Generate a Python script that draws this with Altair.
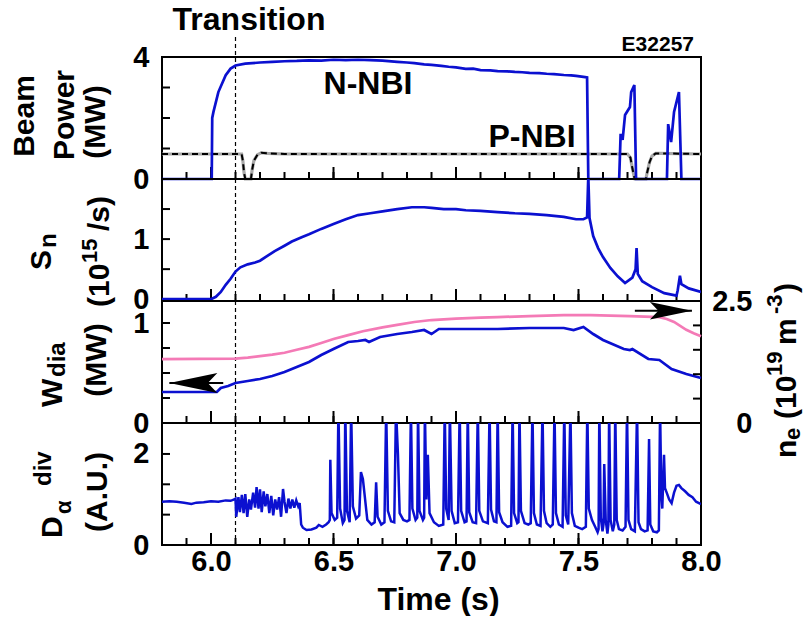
import altair as alt
import pandas as pd

FONT = "Liberation Sans"
BLUE = "#0b10d0"
PINK = "#f47ab6"
GRAY = "#a8a8a8"
W, H = 539, 122

# ---------------- data (time [s], value) ----------------
nnbi = [(5.80, 0), (6.003, 0), (6.005, 2.0), (6.01, 2.2), (6.03, 2.85), (6.06, 3.4),
        (6.08, 3.62), (6.10, 3.72), (6.14, 3.78), (6.20, 3.82), (6.25, 3.84), (6.30, 3.86),
        (6.35, 3.87), (6.40, 3.89), (6.45, 3.88), (6.50, 3.91), (6.55, 3.90), (6.60, 3.91),
        (6.65, 3.90), (6.70, 3.88), (6.76, 3.84), (6.80, 3.82), (6.83, 3.80), (6.87, 3.76),
        (6.90, 3.74), (6.94, 3.71), (6.97, 3.68), (7.00, 3.66), (7.04, 3.61), (7.07, 3.62),
        (7.10, 3.57), (7.14, 3.56), (7.17, 3.54), (7.21, 3.53), (7.24, 3.51), (7.27, 3.50),
        (7.30, 3.48), (7.34, 3.47), (7.37, 3.45), (7.40, 3.44), (7.44, 3.41), (7.47, 3.40),
        (7.49, 3.38), (7.52, 3.35), (7.535, 3.33), (7.54, 0), (7.666, 0), (7.672, 1.48),
        (7.68, 1.28), (7.69, 2.10), (7.71, 2.36), (7.715, 2.85), (7.728, 3.08), (7.735, 0),
        (7.861, 0), (7.866, 1.80), (7.878, 1.21), (7.89, 2.20), (7.91, 2.85), (7.92, 0), (8.0, 0)]

pnbi = [(5.80, 0.82), (6.125, 0.82), (6.13, 0.60), (6.135, 0.20), (6.14, 0.0), (6.163, 0.0),
        (6.168, 0.30), (6.175, 0.60), (6.19, 0.80), (6.205, 0.86), (6.23, 0.84), (6.30, 0.82),
        (7.70, 0.82), (7.712, 0.70), (7.72, 0.35), (7.728, 0.05), (7.73, 0.0), (7.775, 0.0),
        (7.78, 0.20), (7.79, 0.55), (7.80, 0.75), (7.815, 0.84), (7.83, 0.84), (8.0, 0.82)]

sn = [(5.80, 0.0), (6.00, 0.0), (6.02, 0.04), (6.04, 0.12), (6.06, 0.24), (6.08, 0.34),
      (6.10, 0.46), (6.12, 0.53), (6.15, 0.58), (6.18, 0.61), (6.20, 0.64), (6.23, 0.72),
      (6.26, 0.80), (6.30, 0.89), (6.33, 0.96), (6.37, 1.03), (6.40, 1.08), (6.45, 1.17),
      (6.50, 1.25), (6.55, 1.33), (6.60, 1.40), (6.65, 1.43), (6.70, 1.46), (6.76, 1.50),
      (6.82, 1.53), (6.87, 1.53), (6.90, 1.52), (6.95, 1.50), (7.00, 1.50), (7.04, 1.48),
      (7.10, 1.47), (7.17, 1.45), (7.24, 1.43), (7.30, 1.42), (7.37, 1.40), (7.44, 1.37),
      (7.49, 1.33), (7.52, 1.33), (7.535, 1.36), (7.54, 2.05), (7.545, 1.35), (7.56, 1.05),
      (7.58, 0.85), (7.60, 0.70), (7.63, 0.52), (7.66, 0.38), (7.69, 0.27), (7.72, 0.36),
      (7.733, 0.50), (7.737, 0.85), (7.742, 0.42), (7.76, 0.30), (7.80, 0.20), (7.85, 0.10),
      (7.90, 0.06), (7.905, 0.15), (7.914, 0.39), (7.92, 0.25), (7.95, 0.18), (8.0, 0.12)]

wdia = [(5.80, 0.31), (6.00, 0.31), (6.024, 0.31), (6.04, 0.35), (6.07, 0.37), (6.10, 0.40),
        (6.15, 0.42), (6.20, 0.44), (6.25, 0.47), (6.30, 0.51), (6.35, 0.56), (6.40, 0.61),
        (6.45, 0.68), (6.50, 0.74), (6.56, 0.81), (6.60, 0.82), (6.63, 0.83), (6.645, 0.81),
        (6.69, 0.86), (6.76, 0.89), (6.82, 0.91), (6.87, 0.93), (6.90, 0.89), (6.93, 0.94),
        (7.00, 0.94), (7.10, 0.94), (7.17, 0.94), (7.30, 0.95), (7.44, 0.95), (7.48, 0.93),
        (7.52, 0.96), (7.56, 0.89), (7.60, 0.83), (7.685, 0.74), (7.71, 0.73), (7.72, 0.74),
        (7.785, 0.64), (7.83, 0.63), (7.88, 0.54), (7.94, 0.49), (8.0, 0.45)]

ne = [(5.80, 1.31), (6.10, 1.32), (6.15, 1.34), (6.20, 1.37), (6.25, 1.40), (6.30, 1.44),
      (6.35, 1.50), (6.40, 1.56), (6.45, 1.64), (6.50, 1.72), (6.56, 1.80), (6.62, 1.88),
      (6.70, 1.96), (6.76, 2.01), (6.83, 2.07), (6.90, 2.11), (7.00, 2.14), (7.10, 2.16),
      (7.17, 2.17), (7.30, 2.19), (7.44, 2.21), (7.55, 2.21), (7.71, 2.19), (7.83, 2.17),
      (7.86, 2.13), (7.89, 2.07), (7.94, 1.91), (7.97, 1.84), (8.0, 1.78)]

dalpha = [(5.80, 0.95), (5.83, 0.96), (5.86, 0.95), (5.89, 0.93), (5.92, 0.90), (5.94, 0.93),
          (5.97, 0.94), (6.00, 0.96), (6.03, 0.95), (6.06, 0.98), (6.08, 0.97), (6.095, 1.00),
          (6.10, 1.02), (6.103, 0.62), (6.112, 1.05), (6.118, 0.72), (6.126, 1.10), (6.133, 0.70),
          (6.14, 1.12), (6.148, 0.62), (6.156, 1.00), (6.163, 0.78), (6.172, 1.15), (6.18, 0.82),
          (6.186, 1.27), (6.194, 0.80), (6.20, 1.22), (6.207, 0.72), (6.215, 1.18), (6.222, 0.85),
          (6.23, 1.12), (6.238, 0.70), (6.246, 1.08), (6.254, 0.65), (6.262, 1.00), (6.27, 0.78),
          (6.278, 1.05), (6.286, 0.62), (6.294, 1.23), (6.30, 0.95), (6.308, 0.70), (6.316, 1.02),
          (6.324, 0.80), (6.332, 1.00), (6.34, 0.82), (6.348, 0.98), (6.356, 0.85), (6.362, 0.92),
          (6.368, 0.45), (6.375, 0.38), (6.39, 0.33), (6.41, 0.34), (6.43, 0.38), (6.44, 0.44),
          (6.455, 0.40), (6.47, 0.45), (6.48, 0.50),
          (6.485, 0.55), (6.487, 1.87), (6.492, 0.70), (6.505, 0.55), (6.515, 0.60),
          (6.520, 3.0), (6.527, 0.80), (6.538, 0.48), (6.545, 0.55),
          (6.548, 3.0), (6.555, 0.75), (6.566, 0.50),
          (6.572, 3.0), (6.579, 0.85), (6.592, 0.58), (6.605, 0.65),
          (6.612, 1.60), (6.62, 1.45), (6.628, 1.05), (6.638, 0.55), (6.655, 0.45), (6.668, 0.50),
          (6.674, 1.38), (6.68, 0.62), (6.695, 0.45), (6.708, 0.50),
          (6.715, 3.0), (6.722, 0.75), (6.735, 0.52), (6.748, 0.50),
          (6.755, 3.0), (6.763, 2.0), (6.770, 0.70), (6.785, 0.55), (6.80, 0.52), (6.81, 0.55),
          (6.816, 3.0), (6.822, 0.80), (6.835, 0.55), (6.842, 0.60),
          (6.845, 3.0), (6.851, 0.75), (6.865, 0.55), (6.870, 0.60),
          (6.873, 3.0), (6.879, 1.00), (6.885, 1.98), (6.892, 0.70), (6.91, 0.50), (6.93, 0.42),
          (6.948, 0.45), (6.954, 3.0), (6.960, 0.80), (6.970, 0.55),
          (6.975, 3.0), (6.982, 0.75), (6.995, 0.48), (7.008, 0.50),
          (7.015, 3.0), (7.021, 0.75), (7.035, 0.50), (7.043, 0.52),
          (7.048, 3.0), (7.054, 0.72), (7.068, 0.50), (7.082, 0.48),
          (7.089, 3.0), (7.095, 0.75), (7.11, 0.52), (7.13, 0.48),
          (7.137, 3.0), (7.143, 0.78), (7.155, 0.52), (7.165, 0.50),
          (7.170, 3.0), (7.176, 0.72), (7.19, 0.50), (7.21, 0.40), (7.225, 0.42),
          (7.231, 3.0), (7.237, 0.70), (7.25, 0.48), (7.255, 0.50),
          (7.259, 3.0), (7.265, 0.75), (7.28, 0.48), (7.295, 0.45), (7.305, 0.48),
          (7.312, 3.0), (7.318, 0.70), (7.33, 0.45), (7.345, 0.42),
          (7.353, 3.0), (7.359, 0.75), (7.37, 0.48), (7.385, 0.40), (7.395, 0.45),
          (7.402, 3.0), (7.408, 0.70), (7.42, 0.45), (7.435, 0.40),
          (7.442, 3.0), (7.448, 0.65), (7.458, 0.45),
          (7.467, 3.0), (7.473, 0.70), (7.485, 0.42), (7.50, 0.38), (7.515, 0.35), (7.53, 0.40),
          (7.536, 3.0), (7.542, 0.80), (7.555, 0.55), (7.568, 0.40), (7.578, 0.28), (7.582, 0.35),
          (7.585, 3.0), (7.591, 0.60), (7.598, 0.30), (7.602, 0.45),
          (7.605, 1.78), (7.611, 0.55), (7.618, 0.25), (7.622, 0.45),
          (7.625, 3.0), (7.631, 0.55), (7.64, 0.30), (7.646, 0.45),
          (7.650, 3.0), (7.656, 0.55), (7.665, 0.35), (7.68, 0.32), (7.692, 0.40),
          (7.698, 3.0), (7.704, 0.55), (7.715, 0.35), (7.73, 0.30),
          (7.739, 3.0), (7.745, 0.50), (7.755, 0.35), (7.77, 0.30), (7.782, 0.32),
          (7.788, 2.33), (7.793, 0.45), (7.805, 0.30), (7.82, 0.28), (7.828, 0.32),
          (7.833, 3.0), (7.838, 1.10), (7.842, 0.80), (7.849, 1.98), (7.853, 1.25),
          (7.86, 1.15), (7.87, 1.00), (7.88, 0.92), (7.89, 1.15), (7.90, 1.30), (7.91, 1.32),
          (7.92, 1.25), (7.935, 1.18), (7.95, 1.10), (7.965, 1.05), (7.98, 0.95), (8.0, 0.90)]

# tick positions / labels
minor_ticks = [5.9, 6.0, 6.1, 6.2, 6.3, 6.4, 6.5, 6.6, 6.7, 6.8, 6.9, 7.0,
               7.1, 7.2, 7.3, 7.4, 7.5, 7.6, 7.7, 7.8, 7.9]
major_ticks = [6.0, 6.5, 7.0, 7.5]
time_labels = [6.0, 6.5, 7.0, 7.5, 8.0]
transition_t = [6.1]
beam_ticks, beam_labels = [1, 2, 3], [0, 4]
sn_ticks, sn_labels = [0.5, 1.0, 1.5], [0, 1]
wdia_ticks, wdia_labels = [0.25, 0.5, 0.75, 1.0], [0, 1]
ne_ticks, ne_labels = [0.5, 1.0, 1.5, 2.0], [0, 2.5]
da_ticks, da_labels = [0.6667, 1.3333, 2.0], [0, 2]
# arrows: (tip time, tail time, level)
left_arrow = {"t": [5.83], "t2": [6.05], "v": [0.40]}
right_arrow = {"t": [7.963], "t2": [7.73], "v": [2.30]}


def df(pairs):
    return pd.DataFrame(pairs, columns=["t", "v"])


xscale = alt.Scale(domain=[5.8, 8.0], nice=False, zero=False)
one = pd.DataFrame({"a": [0]})
LBL = 29


def lab_axis(values, orient="left", **kw):
    return alt.Axis(values=values, orient=orient, title=None, tickSize=0, domain=False,
                    grid=False, labelFont=FONT, labelFontSize=LBL, labelFontWeight="bold",
                    labelColor="black", labelFlush=False, labelOverlap=False, **kw)


def X(ax):
    return alt.X("t:Q", scale=xscale, axis=ax)


def Y(sc, ax):
    return alt.Y("v:Q", scale=sc, axis=ax)


def bottom_ticks(xax):
    mi = alt.Chart(pd.DataFrame({"t": minor_ticks})).mark_rule(color="black", strokeWidth=2).encode(
        x=X(xax), y=alt.value(H), y2=alt.value(H - 7))
    ma = alt.Chart(pd.DataFrame({"t": major_ticks})).mark_rule(color="black", strokeWidth=2).encode(
        x=X(xax), y=alt.value(H), y2=alt.value(H - 12))
    return [mi, ma]


def side_ticks(vals, sc, ax, right=False):
    x0, x1 = (W, W - 8) if right else (0, 8)
    return alt.Chart(pd.DataFrame({"v": vals})).mark_rule(color="black", strokeWidth=2).encode(
        y=Y(sc, ax), x=alt.value(x0), x2=alt.value(x1))


def vline(xax, top=0):
    return alt.Chart(pd.DataFrame({"t": transition_t})).mark_rule(
        color="black", strokeWidth=1.2, strokeDash=[4, 3]).encode(
        x=X(xax), y=alt.value(top), y2=alt.value(H))


def label(s, x, y, size=30, angle=0, align="center"):
    kw = dict(text=s, font=FONT, fontWeight="bold", fontSize=size, align=align,
              baseline="alphabetic", color="black")
    if angle:
        kw["angle"] = angle
    return alt.Chart(one).mark_text(**kw).encode(x=alt.value(x), y=alt.value(y))


def line(data, sc, ax, xax, color=BLUE, width=2.7, clip=False, **kw):
    return alt.Chart(df(data)).mark_line(color=color, strokeWidth=width, clip=clip, **kw).encode(
        x=X(xax), y=Y(sc, ax))


# ---------------- panel 1 : beam power ----------------
s1 = alt.Scale(domain=[0, 4], nice=False, zero=False)
a1 = lab_axis(beam_labels, format="d", labelPadding=13)
p1 = alt.layer(
    side_ticks(beam_ticks, s1, a1), *bottom_ticks(None), vline(None, top=-20),
    line(pnbi, s1, a1, None, color=GRAY, width=3.2),
    line(pnbi, s1, a1, None, color="black", width=2, strokeDash=[6, 4]),
    line(nnbi, s1, a1, None),
    label("Transition", 87, -27, size=32),
    label("E32257", 532, -6, size=21, align="right"),
    label("N-NBI", 206, 37, size=32),
    label("P-NBI", 370, 90, size=32),
    label("Beam", -128, 59, angle=270),
    label("Power", -88, 58, angle=270),
    label("(MW)", -57, 65, angle=270),
).properties(width=W, height=H)

# ---------------- panel 2 : neutron rate ----------------
s2 = alt.Scale(domain=[-0.03, 2.0], nice=False, zero=False)
a2 = lab_axis(sn_labels, format="d", labelPadding=13)
p2 = alt.layer(
    side_ticks(sn_ticks, s2, a2), *bottom_ticks(None), vline(None),
    line(sn, s2, a2, None, clip=True),
    label("S", -111, 91, angle=270, align="left"),
    label("n", -106, 69, size=24, angle=270, align="left"),
    label("(10", -53, 128, angle=270, align="left"),
    label("15", -65, 84, size=22, angle=270, align="left"),
    label("/s)", -53, 52, angle=270, align="left"),
).properties(width=W, height=H)

# ---------------- panel 3 : stored energy and density ----------------
s3 = alt.Scale(domain=[0, 1.22], nice=False, zero=False)
a3 = lab_axis(wdia_labels, format="d", labelPadding=13)
s3r = alt.Scale(domain=[0, 2.5], nice=False, zero=False)
a3r = lab_axis(ne_labels, orient="right", labelPadding=51, labelAlign="right",
               labelExpr="datum.value == 0 ? '0' : format(datum.value, '.1f')")

la = pd.DataFrame(left_arrow)
ra = pd.DataFrame(right_arrow)
left_group = alt.layer(
    side_ticks(wdia_ticks, s3, a3), *bottom_ticks(None), vline(None),
    line(wdia, s3, a3, None),
    alt.Chart(la).mark_rule(color="black", strokeWidth=2).encode(
        x=X(None), x2="t2:Q", y=Y(s3, a3)),
    alt.Chart(la).mark_point(shape="M0,0L2,-0.42L1.6,0L2,0.42Z", size=2304, filled=True,
                             color="black", opacity=1).encode(x=X(None), y=Y(s3, a3)),
    label("W", -100, 106, angle=270, align="left"),
    label("dia", -97, 76, size=24, angle=270, align="left"),
    label("(MW)", -56, 59, angle=270),
)
right_group = alt.layer(
    side_ticks(ne_ticks, s3r, a3r, right=True),
    line(ne, s3r, a3r, None, color=PINK),
    alt.Chart(ra).mark_rule(color="black", strokeWidth=2).encode(
        x=X(None), x2="t2:Q", y=Y(s3r, a3r)),
    alt.Chart(ra).mark_point(shape="M0,0L-2,-0.42L-1.6,0L-2,0.42Z", size=1764, filled=True,
                             color="black", opacity=1).encode(x=X(None), y=Y(s3r, a3r)),
    label("n", 634, 157, angle=270, align="left"),
    label("e", 638, 139, size=22, angle=270, align="left"),
    label("(10", 634, 118, angle=270, align="left"),
    label("19", 620, 75, size=22, angle=270, align="left"),
    label("m", 634, 44, angle=270, align="left"),
    label("-3", 620, 13, size=22, angle=270, align="left"),
    label(")", 634, -8, angle=270, align="left"),
)
p3 = alt.layer(left_group, right_group).resolve_scale(y="independent").properties(width=W, height=H)

# ---------------- panel 4 : D-alpha ----------------
s4 = alt.Scale(domain=[0, 2.68], nice=False, zero=False)
a4 = lab_axis(da_labels, format="d", labelPadding=13)
xax = alt.Axis(values=time_labels, format=".1f", title="Time (s)", tickSize=0, domain=False,
               grid=False, labelFont=FONT, labelFontSize=LBL, labelFontWeight="bold",
               labelColor="black", labelFlush=False, labelPadding=2, titleFont=FONT,
               titleFontSize=32, titleFontWeight="bold", titleColor="black", titlePadding=8,
               titleX=276, titleAlign="center")
p4 = alt.layer(
    side_ticks(da_ticks, s4, a4), *bottom_ticks(xax), vline(xax),
    line(dalpha, s4, a4, xax, clip=True, width=2.5),
    label("D", -100, 115, angle=270, align="left"),
    label("α", -91, 91, size=22, angle=270, align="left"),
    label("div", -111, 63, size=24, angle=270, align="left"),
    label("(A.U.)", -55, 69, angle=270),
).properties(width=W, height=H)

chart = alt.vconcat(p1, p2, p3, p4, spacing=0, bounds="flush").properties(
    padding={"left": 9, "top": 3, "right": 0, "bottom": 0}
).configure_view(stroke="black", strokeWidth=2)

chart.save("out.html", embed_options={"renderer": "svg", "actions": False})
